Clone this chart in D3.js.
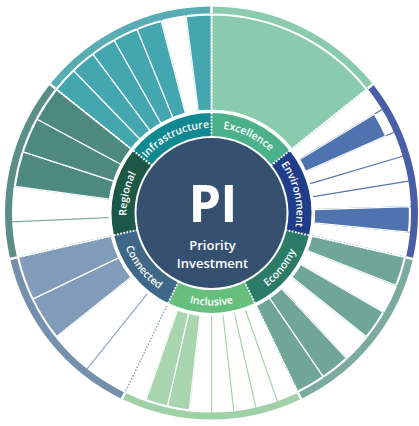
<!DOCTYPE html>
<html>
<head>
<meta charset="utf-8">
<script src="https://cdn.jsdelivr.net/npm/d3@7/dist/d3.min.js"></script>
<style>
    html, body { margin: 0; padding: 0; background: #ffffff; }
    svg { display: block; font-family: "Open Sans", "DejaVu Sans", sans-serif; }
</style>
</head>
<body>
<div id="chart"></div>
<script>
    // categories clockwise from 12 o'clock
    var categories = ["Excellence", "Environment", "Economy", "Inclusive", "Connected", "Regional", "Infrastructure"];

    // bar length per wedge, 0-100 (0 = empty wedge)
    var excellence = [100];
    var environment = [0, 92, 0, 0, 0, 100, 0];
    var economy = [100, 0, 100, 0, 100, 100];
    var inclusive = [0, 0, 0, 0, 0, 100, 100, 0];
    var connected = [0, 0, 100, 100];
    var regional = [0, 0, 100, 100, 100];
    var infrastructure = [100, 100, 100, 100, 100, 0, 100];

    var ringColors = ["#4ab18b", "#203d89", "#2c7b67", "#66bf7c", "#3e6788", "#1d5847", "#128890"];
    var barColors  = ["#8bcbad", "#4f73ae", "#70a698", "#a8d5ad", "#809cb8", "#4e8980", "#44a7af"];
    var bandColors = ["#8bcbad", "#4a5ea8", "#7aab9e", "#a0d1a6", "#7490ad", "#5a8e86", "#58adb5"];
    var lineColors = ["#8bcbad", "#5874ae", "#7aab9e", "#a6d4ac", "#90a5bb", "#86a7a0", "#6bb5bb"];

    var centerTitle = "PI";
    var centerLines = ["Priority", "Investment"];

    var values = [excellence, environment, economy, inclusive, connected, regional, infrastructure];

    var width = 419, height = 426;
    var cx = 211.5, cy = 213;
    var rCenter = 75, ringIn = 77, ringOut = 100;
    var barIn = 103, barOut = 198, bandIn = 199.5, bandOut = 206.5;

    var svg = d3.select("#chart").append("svg")
        .attr("width", width)
        .attr("height", height);

    var g = svg.append("g").attr("transform", "translate(" + cx + "," + cy + ")");

    var catAngle = d3.scaleBand().domain(categories).range([0, 2 * Math.PI]);
    var radius = d3.scaleLinear().domain([0, 100]).range([barIn, barOut]);

    function pt(a, r) {
        return [r * Math.sin(a), -r * Math.cos(a)];
    }

    function wedgeScale(i) {
        var a0 = catAngle(categories[i]);
        return d3.scaleBand().domain(d3.range(values[i].length)).range([a0, a0 + catAngle.bandwidth()]);
    }

    var arc = d3.arc();

    // radial guide lines inside each category
    categories.forEach(function (c, i) {
        var wedge = wedgeScale(i);
        var n = values[i].length;
        for (let k = 0; k <= n; k++) {
            var a = k < n ? wedge(k) : catAngle(c) + catAngle.bandwidth();
            var p0 = pt(a, barIn), p1 = pt(a, bandIn);
            g.append("line")
                .attr("x1", p0[0]).attr("y1", p0[1])
                .attr("x2", p1[0]).attr("y2", p1[1])
                .attr("stroke", lineColors[i])
                .attr("stroke-width", 1.2);
        }
    });

    // bars
    categories.forEach(function (c, i) {
        var wedge = wedgeScale(i);
        var bars = values[i].map(function (v, k) { return { v: v, k: k }; })
            .filter(function (d) { return d.v > 0; });
        g.append("g").selectAll("path")
            .data(bars)
            .enter().append("path")
            .attr("d", function (d) {
                return arc({
                    innerRadius: barIn,
                    outerRadius: radius(d.v),
                    startAngle: wedge(d.k),
                    endAngle: wedge(d.k) + wedge.bandwidth()
                });
            })
            .attr("fill", barColors[i])
            .attr("stroke", "#ffffff")
            .attr("stroke-width", 1.2);
    });

    // outer band
    g.selectAll(".band")
        .data(categories)
        .enter().append("path")
        .attr("class", "band")
        .attr("d", function (c) {
            return arc({
                innerRadius: bandIn, outerRadius: bandOut,
                startAngle: catAngle(c) + 0.006, endAngle: catAngle(c) + catAngle.bandwidth() - 0.006
            });
        })
        .attr("fill", function (c, i) { return bandColors[i]; });

    // inner ring
    g.selectAll(".ring")
        .data(categories)
        .enter().append("path")
        .attr("class", "ring")
        .attr("d", function (c) {
            return arc({
                innerRadius: ringIn, outerRadius: ringOut,
                startAngle: catAngle(c), endAngle: catAngle(c) + catAngle.bandwidth()
            });
        })
        .attr("fill", function (c, i) { return ringColors[i]; });

    // dotted category borders
    categories.forEach(function (c) {
        var p0 = pt(catAngle(c), ringIn - 1), p1 = pt(catAngle(c), bandOut + 1);
        g.append("line")
            .attr("x1", p0[0]).attr("y1", p0[1])
            .attr("x2", p1[0]).attr("y2", p1[1])
            .attr("stroke", "#ffffff")
            .attr("stroke-width", 2)
            .attr("stroke-dasharray", "1.6,1.6");
    });

    // centre disc
    g.append("circle").attr("r", rCenter).attr("fill", "#36506f");

    g.append("text")
        .attr("x", 1).attr("y", 9)
        .attr("text-anchor", "middle")
        .attr("fill", "#ffffff")
        .attr("font-size", 52)
        .attr("font-weight", 700)
        .attr("letter-spacing", -1)
        .text(centerTitle);

    g.append("text")
        .attr("text-anchor", "middle")
        .attr("fill", "#ffffff")
        .attr("font-size", 13)
        .attr("font-weight", 600)
        .selectAll("tspan")
        .data(centerLines)
        .enter().append("tspan")
        .attr("x", 1)
        .attr("y", function (d, k) { return 37 + k * 17.9; })
        .text(function (d) { return d; });

    // curved category labels
    var defs = svg.append("defs");
    categories.forEach(function (c, i) {
        var a0 = catAngle(c), a1 = a0 + catAngle.bandwidth();
        var mid = (a0 + a1) / 2;
        var bottom = mid > Math.PI / 2 && mid < 3 * Math.PI / 2;
        var r = bottom ? 92.5 : 85;
        var s = pt(bottom ? a1 : a0, r), e = pt(bottom ? a0 : a1, r);
        var d = "M" + s[0] + "," + s[1] + " A" + r + "," + r + " 0 0 " + (bottom ? 0 : 1) + " " + e[0] + "," + e[1];
        defs.append("path").attr("id", "lab" + i).attr("d", d);
        g.append("text")
            .attr("fill", "#ffffff")
            .attr("font-size", 10.5)
            .attr("font-weight", 600)
            .append("textPath")
            .attr("href", "#lab" + i)
            .attr("startOffset", "50%")
            .attr("text-anchor", "middle")
            .text(c);
    });
</script>
</body>
</html>
